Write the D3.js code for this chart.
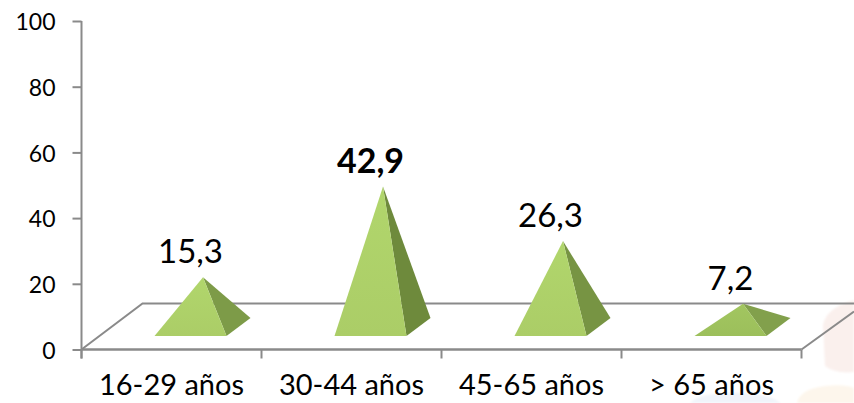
<!DOCTYPE html>
<html><head><meta charset="utf-8">
<script src="https://cdn.jsdelivr.net/npm/d3@7"></script>
<style>html,body{margin:0;background:#fff}svg{display:block}text{font-family:Lato,"Open Sans",sans-serif;fill:#000}</style>
</head><body><svg id="c" width="854" height="403"></svg>
<script>
const categories = ["16-29 años","30-44 años","45-65 años","> 65 años"];
const values = [15.3,42.9,26.3,7.2];
const valueLabels = ["15,3","42,9","26,3","7,2"];
const boldFlags = [false,true,false,false];
const yTicks = [0,20,40,60,80,100];

const svg = d3.select("#c");
const defs = svg.append("defs");
defs.append("filter").attr("id","soft").append("feGaussianBlur").attr("stdDeviation",1.2);
const x = d3.scaleBand().domain(categories).range([81.5,801.5]);
const y = d3.scaleLinear().domain([0,100]).range([349.5,21]);
const axisColor = "#8a8a8a";

// faint watermark behind the chart
const wm = svg.append("g").attr("filter","url(#soft)");
wm.append("path").attr("d","M823 325 Q826 308 854 300 V372 Q836 374 825 366 Z").attr("fill","#faf0ed");
wm.append("path").attr("d","M797 403 Q800 389 825 386 Q845 384 854 388 V403 Z").attr("fill","#fdf6ec");
wm.append("path").attr("d","M690 403 Q700 393 730 393 Q765 392 781 403 Z").attr("fill","#f0f4fa");

// floor
const depthX = 61, depthY = 46;
svg.append("path")
  .attr("d",`M${x.range()[0]} ${y(0)} L${x.range()[0]+depthX} ${y(0)-depthY} H854 M${x.range()[1]} ${y(0)} L854 ${y(0)-38}`)
  .attr("fill","none").attr("stroke",axisColor).attr("stroke-width",2);

// axes
const gy = svg.append("g").attr("transform",`translate(${x.range()[0]},0)`)
  .call(d3.axisLeft(y).tickValues(yTicks).tickSize(9).tickPadding(17));
gy.selectAll("path,line").attr("stroke",axisColor).attr("stroke-width",2);
gy.selectAll("text").attr("font-size",23).attr("dy","0.38em");
gy.select("path").attr("d",`M0 ${y(100)} V${y(0)+9}`);

const gx = svg.append("g").attr("transform",`translate(0,${y(0)})`)
  .call(d3.axisBottom(x).tickSize(0).tickPadding(25));
gx.selectAll("path").attr("stroke",axisColor).attr("stroke-width",2.4).attr("d",`M${x.range()[0]} 0 H${x.range()[1]}`);
gx.selectAll("text").attr("font-size",29);
gx.selectAll(".tk").data([0,1,2,3,4]).enter().append("line").attr("class","tk")
  .attr("x1",i=>x.range()[0]+i*x.step()).attr("x2",i=>x.range()[0]+i*x.step())
  .attr("y1",0).attr("y2",9).attr("stroke",axisColor).attr("stroke-width",2);

// pyramids
const baseFrontY = 336, baseBackY = 318, baseMidY = 327.5;
const g = svg.append("g");
const shade = d3.scaleLinear().domain([7.2,42.9]).range(["#82a04c","#6e8a3c"]);
values.forEach((v,i)=>{
  const c = x(categories[i]) + x.bandwidth()/2;
  const ax = c+31.5, ay = y(v)-(y(0)-baseMidY);
  const l = c-17, r = c+55, br = c+79;
  const grad = "grad"+i;
  const lg = defs.append("linearGradient").attr("id",grad).attr("x1",0).attr("y1",0).attr("x2",0).attr("y2",1);
  lg.append("stop").attr("offset",0).attr("stop-color",v<10?"#a2c660":"#b1d66c");
  lg.append("stop").attr("offset",1).attr("stop-color",v<10?"#9cbf5b":"#abcd67");
  g.append("path").attr("d",`M${ax} ${ay} L${r} ${baseFrontY} L${br} ${baseBackY} Z`).attr("fill",shade(v));
  g.append("path").attr("d",`M${ax} ${ay} L${l} ${baseFrontY} H${r} Z`).attr("fill",`url(#${grad})`);
  g.append("text").attr("x",c+19).attr("y",ay-14).attr("text-anchor","middle")
    .attr("font-size",boldFlags[i]?34:33).attr("font-weight",boldFlags[i]?700:400).text(valueLabels[i]);
});
</script></body></html>
